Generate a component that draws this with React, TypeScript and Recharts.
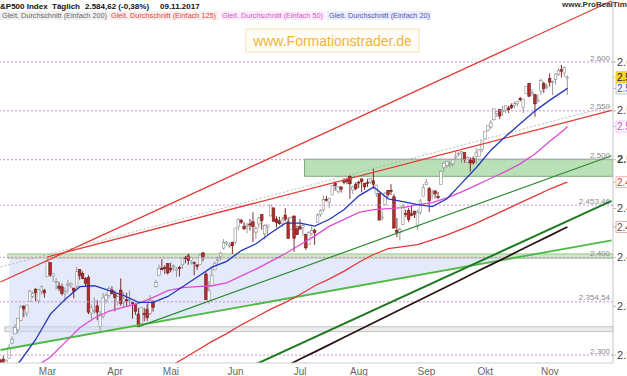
import React from 'react';
import { ComposedChart, Bar, Line, Area, XAxis, YAxis, ReferenceLine, ReferenceArea } from 'recharts';

// daily candles, one list per month: [day, open, high, low, close]
const feb2017 = [
  [6, 2294.3, 2296.2, 2288.6, 2292.6], [7, 2295.9, 2299.4, 2290.2, 2293.1], [8, 2289.6, 2295.9, 2285.4, 2294.7],
  [9, 2296.7, 2311.1, 2296.6, 2307.9], [10, 2312.3, 2319.2, 2311.1, 2316.1], [13, 2321.7, 2331.6, 2321.4, 2328.3],
  [14, 2326.1, 2337.6, 2322.2, 2337.6], [15, 2335.6, 2351.3, 2334.8, 2349.3], [16, 2349.6, 2351.3, 2338.9, 2347.2],
  [17, 2343.0, 2351.2, 2339.6, 2351.2], [21, 2354.9, 2366.7, 2354.9, 2365.4], [22, 2360.2, 2365.1, 2358.3, 2362.8],
  [23, 2367.5, 2368.3, 2355.1, 2363.8], [24, 2355.7, 2367.3, 2352.9, 2367.3], [27, 2365.2, 2371.5, 2361.9, 2369.8],
  [28, 2366.1, 2367.8, 2358.9, 2363.6],
];
const mar2017 = [
  [1, 2380.1, 2401.0, 2380.1, 2396.0], [2, 2394.8, 2394.8, 2380.2, 2381.9], [3, 2380.9, 2383.9, 2375.1, 2383.1],
  [6, 2375.2, 2378.8, 2367.0, 2375.3], [7, 2370.7, 2375.1, 2365.5, 2368.4], [8, 2369.8, 2373.1, 2361.0, 2363.0],
  [9, 2363.5, 2369.1, 2354.5, 2364.9], [10, 2372.5, 2376.9, 2364.2, 2372.6], [13, 2371.6, 2374.4, 2368.5, 2373.5],
  [14, 2368.6, 2368.6, 2358.2, 2365.5], [15, 2370.3, 2390.0, 2368.9, 2385.3], [16, 2387.7, 2388.1, 2377.2, 2381.4],
  [17, 2383.7, 2385.7, 2377.6, 2378.3], [20, 2378.2, 2379.6, 2369.7, 2373.5], [21, 2379.3, 2381.9, 2341.9, 2344.0],
  [22, 2343.0, 2351.8, 2336.5, 2348.5], [23, 2345.1, 2358.9, 2342.1, 2346.0], [24, 2350.4, 2356.2, 2335.7, 2344.0],
  [27, 2329.1, 2344.9, 2322.3, 2341.6], [28, 2339.8, 2363.8, 2337.6, 2358.6], [29, 2356.5, 2363.4, 2352.9, 2361.1],
  [30, 2361.3, 2370.4, 2358.6, 2368.1], [31, 2366.6, 2370.4, 2362.6, 2362.7],
];
const apr2017 = [
  [3, 2362.3, 2365.9, 2344.7, 2358.8], [4, 2354.8, 2360.5, 2350.7, 2360.2], [5, 2366.6, 2378.4, 2350.5, 2353.0],
  [6, 2353.8, 2364.2, 2348.9, 2357.5], [7, 2356.6, 2363.8, 2349.8, 2355.5], [10, 2357.2, 2366.4, 2350.0, 2357.2],
  [11, 2353.9, 2355.2, 2337.3, 2353.8], [12, 2352.2, 2352.7, 2341.2, 2344.9], [13, 2341.9, 2348.3, 2328.9, 2329.0],
  [17, 2332.6, 2349.1, 2332.5, 2349.0], [18, 2342.5, 2348.4, 2334.5, 2342.2], [19, 2346.8, 2352.6, 2335.1, 2338.2],
  [20, 2342.7, 2361.4, 2340.9, 2355.8], [21, 2354.7, 2356.2, 2344.5, 2348.7], [24, 2370.3, 2376.9, 2369.0, 2374.2],
  [25, 2381.5, 2392.5, 2381.2, 2388.6], [26, 2389.0, 2398.2, 2386.8, 2387.5], [27, 2389.7, 2392.1, 2383.0, 2388.8],
  [28, 2393.7, 2393.7, 2382.4, 2384.2],
];
const may2017 = [
  [1, 2388.5, 2394.5, 2384.8, 2388.3], [2, 2391.1, 2392.9, 2385.8, 2391.2], [3, 2386.5, 2389.8, 2379.8, 2388.1],
  [4, 2389.8, 2391.4, 2380.4, 2389.5], [5, 2392.4, 2399.3, 2388.0, 2399.3], [8, 2399.9, 2401.4, 2393.9, 2399.4],
  [9, 2401.6, 2403.9, 2392.4, 2396.9], [10, 2396.8, 2399.7, 2392.8, 2399.6], [11, 2394.8, 2395.7, 2381.7, 2394.4],
  [12, 2392.4, 2392.4, 2387.2, 2390.9], [15, 2393.0, 2404.1, 2393.0, 2402.3], [16, 2404.6, 2405.8, 2396.0, 2400.7],
  [17, 2382.9, 2384.9, 2356.2, 2357.0], [18, 2354.7, 2375.7, 2352.7, 2365.7], [19, 2371.4, 2389.1, 2370.4, 2381.7],
  [22, 2387.2, 2395.5, 2386.9, 2394.0], [23, 2397.0, 2400.9, 2393.9, 2398.4], [24, 2401.4, 2405.6, 2397.0, 2404.4],
  [25, 2409.5, 2418.7, 2408.0, 2415.1], [26, 2414.5, 2416.7, 2412.2, 2415.8], [30, 2411.7, 2415.3, 2409.4, 2412.9],
  [31, 2415.6, 2415.9, 2403.6, 2411.8],
];
const jun2017 = [
  [1, 2415.6, 2430.1, 2413.5, 2430.1], [2, 2431.3, 2440.2, 2427.7, 2439.1], [5, 2437.8, 2439.6, 2434.3, 2436.1],
  [6, 2431.9, 2436.2, 2428.1, 2429.3], [7, 2432.0, 2435.3, 2424.8, 2433.1], [8, 2434.3, 2439.3, 2427.4, 2433.8],
  [9, 2436.4, 2446.2, 2415.7, 2431.8], [12, 2425.9, 2432.0, 2419.0, 2429.4], [13, 2434.2, 2441.5, 2430.0, 2440.4],
  [14, 2443.8, 2443.8, 2428.3, 2437.9], [15, 2424.1, 2433.9, 2418.5, 2432.5], [16, 2431.2, 2433.2, 2422.9, 2433.2],
  [19, 2442.5, 2453.8, 2441.8, 2453.5], [20, 2450.7, 2450.7, 2436.6, 2437.0], [21, 2439.3, 2442.2, 2430.7, 2435.6],
  [22, 2437.4, 2441.6, 2433.3, 2434.5], [23, 2434.7, 2441.4, 2431.1, 2438.3], [26, 2443.3, 2450.4, 2437.0, 2439.1],
  [27, 2436.3, 2441.0, 2419.4, 2419.4], [28, 2428.7, 2442.0, 2428.7, 2440.7], [29, 2442.4, 2442.7, 2405.7, 2419.7],
  [30, 2429.2, 2432.7, 2422.9, 2423.4],
];
const jul2017 = [
  [3, 2431.4, 2439.2, 2428.7, 2429.0], [5, 2430.8, 2434.9, 2422.1, 2432.5], [6, 2423.4, 2424.3, 2407.7, 2409.8],
  [7, 2413.5, 2426.9, 2413.5, 2425.2], [10, 2424.5, 2432.0, 2422.3, 2427.4], [11, 2427.4, 2429.3, 2412.8, 2425.5],
  [12, 2435.8, 2445.2, 2435.8, 2443.3], [13, 2444.0, 2449.3, 2441.7, 2447.8], [14, 2449.2, 2463.5, 2446.7, 2459.3],
  [17, 2459.5, 2462.8, 2457.2, 2459.1], [18, 2455.9, 2460.9, 2450.3, 2460.6], [19, 2463.9, 2473.8, 2463.9, 2473.8],
  [20, 2475.6, 2477.6, 2468.4, 2473.5], [21, 2467.4, 2472.5, 2465.1, 2472.5], [24, 2472.0, 2473.1, 2466.3, 2469.9],
  [25, 2477.9, 2481.2, 2474.9, 2477.1], [26, 2479.9, 2481.7, 2474.9, 2477.8], [27, 2482.8, 2484.0, 2459.9, 2475.4],
  [28, 2469.1, 2473.5, 2464.7, 2472.1], [31, 2475.0, 2477.0, 2468.5, 2470.3],
];
const aug2017 = [
  [1, 2477.1, 2478.5, 2471.1, 2476.4], [2, 2480.4, 2480.4, 2466.5, 2477.6], [3, 2476.0, 2476.0, 2468.9, 2472.2],
  [4, 2476.9, 2480.4, 2472.1, 2476.8], [7, 2477.1, 2480.9, 2475.4, 2480.9], [8, 2478.4, 2490.9, 2470.3, 2474.9],
  [9, 2465.4, 2474.4, 2462.1, 2474.0], [10, 2465.4, 2465.4, 2437.8, 2438.2], [11, 2441.0, 2448.1, 2437.9, 2441.3],
  [14, 2454.0, 2467.0, 2454.0, 2465.8], [15, 2468.7, 2468.9, 2461.6, 2464.6], [16, 2468.6, 2474.9, 2463.9, 2468.1],
  [17, 2462.0, 2465.0, 2430.0, 2430.0], [18, 2427.6, 2440.3, 2420.7, 2425.6], [21, 2425.5, 2430.6, 2417.4, 2428.4],
  [22, 2433.8, 2454.8, 2433.7, 2452.5], [23, 2444.9, 2448.9, 2441.4, 2444.0], [24, 2447.9, 2450.4, 2436.2, 2439.0],
  [25, 2444.7, 2453.0, 2442.2, 2443.1], [28, 2447.4, 2447.4, 2440.3, 2444.2], [29, 2431.9, 2449.2, 2428.2, 2446.3],
  [30, 2446.1, 2460.1, 2443.8, 2457.6], [31, 2462.7, 2475.0, 2462.7, 2471.7],
];
const sep2017 = [
  [1, 2474.4, 2480.4, 2473.9, 2476.6], [5, 2470.4, 2472.0, 2446.6, 2457.9], [6, 2463.8, 2469.6, 2459.2, 2465.5],
  [7, 2468.1, 2468.6, 2460.3, 2465.1], [8, 2462.3, 2467.1, 2459.4, 2461.4], [11, 2474.5, 2489.0, 2474.5, 2488.1],
  [12, 2491.9, 2496.8, 2488.1, 2496.5], [13, 2493.9, 2498.4, 2492.1, 2498.4], [14, 2494.6, 2498.4, 2491.9, 2495.6],
  [15, 2495.7, 2500.2, 2493.2, 2500.2], [18, 2502.5, 2508.3, 2499.9, 2503.9], [19, 2506.3, 2507.8, 2503.2, 2506.7],
  [20, 2506.8, 2508.9, 2496.7, 2508.2], [21, 2507.2, 2507.2, 2497.0, 2500.6], [22, 2497.3, 2503.5, 2496.5, 2502.2],
  [25, 2499.4, 2502.5, 2488.0, 2496.7], [26, 2501.0, 2503.5, 2495.1, 2496.8], [27, 2503.3, 2511.8, 2495.9, 2507.0],
  [28, 2503.4, 2510.8, 2502.9, 2510.1], [29, 2510.4, 2519.4, 2507.8, 2519.4],
];
const oct2017 = [
  [2, 2521.2, 2529.2, 2520.4, 2529.1], [3, 2530.3, 2535.1, 2528.9, 2534.6], [4, 2533.5, 2540.5, 2531.7, 2537.7],
  [5, 2540.9, 2552.5, 2540.0, 2552.1], [6, 2547.4, 2549.4, 2543.8, 2549.3], [9, 2551.4, 2551.8, 2541.6, 2544.7],
  [10, 2550.0, 2555.2, 2544.9, 2550.6], [11, 2550.6, 2555.2, 2548.0, 2555.2], [12, 2552.9, 2555.3, 2547.9, 2550.9],
  [13, 2555.7, 2557.7, 2552.0, 2553.2], [16, 2555.6, 2559.5, 2552.6, 2557.6], [17, 2557.2, 2559.7, 2554.7, 2559.4],
  [18, 2562.9, 2564.1, 2559.7, 2561.3], [19, 2553.4, 2562.4, 2547.9, 2562.1], [20, 2567.6, 2575.4, 2567.6, 2575.2],
  [23, 2578.1, 2578.3, 2564.3, 2565.0], [24, 2568.7, 2572.2, 2565.6, 2569.1], [25, 2566.5, 2567.4, 2544.0, 2557.2],
  [26, 2560.1, 2567.1, 2559.5, 2560.4], [27, 2570.3, 2583.0, 2565.9, 2581.1], [30, 2577.8, 2580.0, 2568.3, 2572.8],
  [31, 2575.0, 2578.3, 2572.2, 2575.3],
];
const nov2017 = [
  [1, 2583.2, 2588.4, 2574.9, 2579.4], [2, 2579.5, 2581.1, 2566.2, 2579.9], [3, 2581.9, 2588.4, 2576.8, 2587.8],
  [6, 2587.5, 2593.4, 2585.7, 2591.1], [7, 2592.1, 2597.0, 2584.1, 2590.6], [8, 2588.7, 2595.5, 2585.0, 2594.4],
  [9, 2584.0, 2586.5, 2566.3, 2584.6],
];

// moving averages
const maDates = [
  '02-08', '02-15', '02-23', '03-02', '03-09', '03-16', '03-23', '03-30', '04-06', '04-13',
  '04-21', '04-28', '05-05', '05-12', '05-19', '05-26', '06-05', '06-12', '06-19', '06-26',
  '07-03', '07-11', '07-18', '07-25', '08-01', '08-08', '08-15', '08-22', '08-29', '09-06',
  '09-13', '09-20', '09-27', '10-04', '10-11', '10-18', '10-25', '11-01', '11-08', '11-09',
];
const ma20 = [
  2278, 2295, 2316, 2342, 2357, 2370, 2371, 2366, 2361, 2354, 2354, 2360, 2370, 2380, 2390, 2396, 2407, 2414, 2425, 2435,
  2435, 2432, 2439, 2449, 2463, 2472, 2460, 2457, 2454, 2452, 2460, 2476, 2492, 2510, 2524, 2537, 2550, 2561, 2571, 2573,
];
const ma50 = [
  2270, 2279, 2288, 2298, 2313, 2328, 2338, 2345, 2349, 2353, 2359, 2366, 2369, 2370, 2371, 2374, 2381, 2388, 2396, 2404,
  2413, 2422, 2432, 2439, 2446, 2449, 2450, 2451, 2454, 2456, 2461, 2467, 2474, 2481, 2488, 2496, 2506, 2519, 2531, 2534,
];
const ma125 = [
  null, null, null, null, null, null, null, null, null, null, 2278, 2287, 2296, 2305, 2314, 2322, 2331, 2339, 2347, 2354,
  2362, 2371, 2378, 2386, 2395, 2403, 2409, 2411, 2413, 2418, 2423, 2429, 2435, 2442, 2449, 2456, 2463, 2470, 2476, 2477,
];
const ma200 = [
  null, null, null, null, null, null, null, null, null, null, null, null, null, null, null, null, null, null, null, 2288.4,
  2295.9, 2303.3, 2310.7, 2318.2, 2325.6, 2333.1, 2340.5, 2347.9, 2355.4, 2362.8, 2370.2, 2377.7, 2385.2, 2392.6, 2400.0,
  2407.5, 2415.0, 2422.3, 2429.8, 2431.2,
];

const monthTicks = ['2017-03-01', '2017-04-03', '2017-05-01', '2017-06-01', '2017-07-03', '2017-08-01', '2017-09-01', '2017-10-02', '2017-11-01'];
const monthNames = ['Mar', 'Apr', 'Mai', 'Jun', 'Jul', 'Aug', 'Sep', 'Okt', 'Nov'];

const levels = [2600, 2550, 2500, 2453.46, 2400, 2354.54, 2300];
const levelLabels = ['2.600', '2.550', '2.500', '2.453,46', '2.400', '2.354,54', '2.300'];
const axisTicks = [2300, 2350, 2400, 2450, 2500, 2550, 2600];

// trend lines: [date, price] pairs
const channelUpper = [['2017-02-06', 2374.8], ['f15', 2662.5]];
const channelLower = [['2017-03-01', 2400.5], ['f15', 2550.4]];
const dashedTrend = [['2017-02-06', 2390.2], ['f15', 2555.3]];
const supportLong = [['2017-02-06', 2305.2], ['f15', 2417.4]];
const supportMid = [['2017-04-13', 2329.2], ['f15', 2504.1]];
const supportSteep = [['2017-06-08', 2288.0], ['f15', 2457.9]];
const triangle = [['2017-02-09', 2306.7, 2399.5], ['2017-10-17', 2399.5, 2399.5]];

const months: [string, number[][]][] = [
  ['02', feb2017], ['03', mar2017], ['04', apr2017], ['05', may2017], ['06', jun2017],
  ['07', jul2017], ['08', aug2017], ['09', sep2017], ['10', oct2017], ['11', nov2017],
];
const futureSlots = Array.from({ length: 15 }, (_, i) => `f${i + 1}`);

const data: any[] = [];
months.forEach(([m, rows]) =>
  rows.forEach(([d, o, h, l, c]) =>
    data.push({ date: `2017-${m}-${String(d).padStart(2, '0')}`, open: o, high: h, low: l, close: c })
  )
);
futureSlots.forEach((f) => data.push({ date: f }));
const byDate = new Map(data.map((r) => [r.date, r]));
maDates.forEach((md, i) => {
  const r = byDate.get('2017-' + md);
  r.ma20 = ma20[i];
  r.ma50 = ma50[i];
  r.ma125 = ma125[i];
  r.ma200 = ma200[i];
});
triangle.forEach(([d, lo, hi]) => {
  byDate.get(d as string).tri = [lo, hi];
});

const last = data.filter((r) => r.close != null).slice(-1)[0];
const lastMa = (arr: (number | null)[]) => arr[arr.length - 1] as number;

const fmtDe = (v: number, dec: number) => {
  const [i, f] = v.toFixed(dec).split('.');
  const int = i.replace(/\B(?=(\d{3})+(?!\d))/g, '.');
  return f ? `${int},${f}` : int;
};

const DOMAIN: [number, number] = [2291.9, 2663.5];

const Candle = (props: any) => {
  const { x, y, width, height, payload } = props;
  if (!payload || payload.open == null || !height) return null;
  const { open, close, high, low } = payload;
  const k = height / (high - low);
  const yOf = (p: number) => y + (high - p) * k;
  const up = close >= open;
  const cx = x + width / 2;
  const top = yOf(Math.max(open, close));
  const bh = Math.max(1, Math.abs(yOf(open) - yOf(close)));
  const edge = up ? '#8a8a8a' : '#6e1818';
  return (
    <g>
      <line x1={cx} x2={cx} y1={y} y2={y + height} stroke={edge} strokeWidth={0.9} />
      <rect x={cx - 1.3} y={top} width={2.6} height={bh} fill={up ? '#ffffff' : '#b32d2d'} stroke={edge} strokeWidth={0.6} />
    </g>
  );
};

const levelLabel = (text: string) => (props: any) => {
  const vb = props.viewBox;
  if (!vb) return null;
  return (
    <text x={vb.x + vb.width - 3} y={vb.y - 1.5} textAnchor="end" fontSize={8} fill="#8a8a8a">
      {text}
    </text>
  );
};

const priceTag = (text: string, fill: string, stroke: string, color: string) => (props: any) => {
  const vb = props.viewBox;
  if (!vb) return null;
  const x = vb.x + vb.width;
  const y = vb.y;
  return (
    <g>
      <line x1={x} x2={x + 3} y1={y} y2={y} stroke={stroke} strokeWidth={1} />
      <rect x={x + 3} y={y - 5.5} width={40} height={11} fill={fill} stroke={stroke} strokeWidth={0.8} />
      <text x={x + 4} y={y + 3.6} fontSize={10} fill={color}>{text}</text>
    </g>
  );
};

const RightTick = (props: any) => {
  const { x, y, payload } = props;
  return (
    <text x={x} y={y} dy={3.6} fontSize={11} fill="#444" fontWeight={payload.value === 2500 ? 'bold' : 'normal'}>
      {fmtDe(payload.value, 0)}
    </text>
  );
};

const seg = (pts: any[]) => [{ x: pts[0][0], y: pts[0][1] }, { x: pts[1][0], y: pts[1][1] }];

const Header = () => (
  <svg width={627} height={376} style={{ position: 'absolute', left: 0, top: 0, pointerEvents: 'none' }}>
    <g fontFamily="Liberation Sans, Arial, sans-serif">
      <g fontSize={8} fontWeight="bold" fill="#111">
        <text x={-5.3} y={9}>S&amp;P500 Index</text>
        <text x={52} y={9}>Täglich</text>
        <text x={85} y={9}>2.584,62 (-0,38%)</text>
        <text x={160} y={9}>09.11.2017</text>
      </g>
      <rect x={0} y={11} width={108} height={9} fill="#f2f2f2" />
      <rect x={109} y={11} width={110} height={9} fill="#fbefef" />
      <rect x={220} y={11} width={106} height={9} fill="#fbeffa" />
      <rect x={327} y={11} width={104} height={9} fill="#eceef9" />
      <g fontSize={7.3}>
        <text x={2} y={18} fill="#666">Gleit. Durchschnitt (Einfach 200)</text>
        <text x={111} y={18} fill="#e0463c">Gleit. Durchschnitt (Einfach 125)</text>
        <text x={222} y={18} fill="#dc4fd0">Gleit. Durchschnitt (Einfach 50)</text>
        <text x={329} y={18} fill="#4a55c4">Gleit. Durchschnitt (Einfach 20)</text>
      </g>
      <text x={562} y={7} fontSize={8} fontWeight="bold" fill="#333">www.ProRealTime.com</text>
      <rect x={246} y={29} width={173} height={23} fill="#fffdf6" stroke="#f4e2b4" strokeWidth={1} />
      <text x={332.5} y={46} fontSize={14} textAnchor="middle" fill="#f0b43c">www.Formationstrader.de</text>
    </g>
  </svg>
);

export default function App() {
  return (
    <div style={{ position: 'absolute', left: 0, top: 0, width: 627, height: 376, overflow: 'hidden', background: '#fff', fontFamily: 'Liberation Sans, Arial, sans-serif' }}>
      <div style={{ position: 'absolute', left: -1.5, top: 0 }}>
        <ComposedChart width={654} height={376} data={data} margin={{ top: 0, right: 0, bottom: 0, left: 0 }}>
          <XAxis
            dataKey="date"
            type="category"
            ticks={monthTicks}
            interval={0}
            tickFormatter={(v) => monthNames[monthTicks.indexOf(v)]}
            height={13}
            tickLine={false}
            tickSize={4}
            tickMargin={1}
            axisLine={{ stroke: '#cfcfcf' }}
            tick={{ fontSize: 10, fill: '#666' }}
          />
          <YAxis
            orientation="right"
            domain={DOMAIN}
            allowDataOverflow
            ticks={axisTicks}
            width={40}
            tickSize={3}
            tickMargin={1}
            tickLine={{ stroke: '#bbb' }}
            axisLine={{ stroke: '#c4c4c4' }}
            tick={<RightTick />}
          />

          <ReferenceArea x1="2017-02-08" x2="f15" y1={2324} y2={2329} fill="#e6e6e6" fillOpacity={0.8} stroke="#c2c2c2" strokeWidth={1} ifOverflow="hidden" />
          <ReferenceArea x1="2017-02-09" x2="f15" y1={2399.1} y2={2403.6} fill="#bfe2b6" fillOpacity={0.8} stroke="#9cc894" strokeWidth={1} ifOverflow="hidden" />
          <ReferenceArea x1="2017-07-06" x2="f15" y1={2483} y2={2500.6} fill="#a3d6a0" fillOpacity={0.75} stroke="#82a882" strokeWidth={1} ifOverflow="hidden" />

          <Area dataKey="tri" connectNulls fill="#cdd9f6" fillOpacity={0.55} stroke="#e2cfa8" strokeWidth={0.8} isAnimationActive={false} dot={false} activeDot={false} />

          {levels.map((v, i) => (
            <ReferenceLine key={v} y={v} stroke="#c690d8" strokeDasharray="2 2" strokeWidth={1} label={levelLabel(levelLabels[i])} />
          ))}

          <ReferenceLine segment={seg(channelUpper)} stroke="#e23b36" strokeWidth={1.3} ifOverflow="hidden" />
          <ReferenceLine segment={seg(channelLower)} stroke="#e23b36" strokeWidth={1.3} ifOverflow="hidden" />
          <ReferenceLine segment={seg(dashedTrend)} stroke="#a8a8a8" strokeWidth={0.8} strokeDasharray="2 2" ifOverflow="hidden" />
          <ReferenceLine segment={seg(supportLong)} stroke="#4cbb46" strokeWidth={1.8} ifOverflow="hidden" />
          <ReferenceLine segment={seg(supportMid)} stroke="#2f8a35" strokeWidth={1.2} ifOverflow="hidden" />
          <ReferenceLine segment={seg(supportSteep)} stroke="#1d7a22" strokeWidth={2} ifOverflow="hidden" />

          <Bar dataKey={(d: any) => (d.high != null ? [d.low, d.high] : null)} shape={(p: any) => <Candle {...p} />} isAnimationActive={false} />

          <Line dataKey="ma200" connectNulls dot={false} activeDot={false} stroke="#2a1411" strokeWidth={1.7} isAnimationActive={false} />
          <Line dataKey="ma125" connectNulls dot={false} activeDot={false} stroke="#e3393a" strokeWidth={1.3} isAnimationActive={false} />
          <Line dataKey="ma50" connectNulls dot={false} activeDot={false} stroke="#e04bd6" strokeWidth={1.3} isAnimationActive={false} />
          <Line dataKey="ma20" connectNulls dot={false} activeDot={false} stroke="#2536b8" strokeWidth={1.3} isAnimationActive={false} />

          <ReferenceLine y={lastMa(ma200)} stroke="none" ifOverflow="visible" label={priceTag(fmtDe(lastMa(ma200), 2), '#fff', '#d9a0a0', '#555')} />
          <ReferenceLine y={lastMa(ma125)} stroke="none" ifOverflow="visible" label={priceTag(fmtDe(lastMa(ma125), 2), '#fff', '#f0a8a8', '#e03a3a')} />
          <ReferenceLine y={lastMa(ma50)} stroke="none" ifOverflow="visible" label={priceTag(fmtDe(lastMa(ma50), 2), '#fff', '#f0b4ea', '#d646c8')} />
          <ReferenceLine y={lastMa(ma20)} stroke="none" ifOverflow="visible" label={priceTag(fmtDe(lastMa(ma20), 2), '#fff', '#a8b4ea', '#3a4cc0')} />
          <ReferenceLine y={last.close} stroke="none" ifOverflow="visible" label={priceTag(fmtDe(last.close, 2), '#f6d22a', '#f6d22a', '#222')} />
        </ComposedChart>
      </div>
      <Header />
    </div>
  );
}
